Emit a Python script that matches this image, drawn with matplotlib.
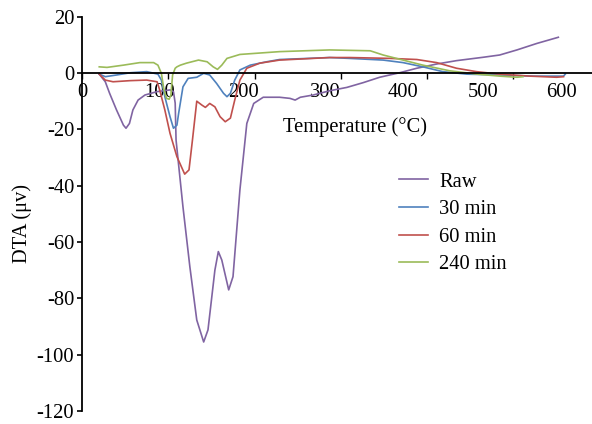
import matplotlib
matplotlib.use("Agg")
import matplotlib.pyplot as plt

# DTA curves (temperature in C, signal in uV)
raw_t = [20, 27, 32, 40, 48, 51, 55, 59, 65, 73, 87, 102, 106, 108, 109, 117, 125, 133, 141, 146, 154,
         158, 162, 170, 175, 183, 191, 199, 210, 229, 241, 247, 253, 268, 287, 307, 326, 345, 368, 388,
         411, 434, 465, 484, 504, 527, 552]
raw_y = [-0.4, -3.1, -7.2, -13.1, -18.5, -19.6, -17.9, -13.1, -9.6, -7.8, -6.6, -6, -6.6, -10.7,
         -23.8, -47.5, -68.8, -87.7, -95.5, -91.2, -70, -63.4, -66.4, -77, -72.3, -41.5, -17.9, -10.8,
         -8.6, -8.6, -9, -9.6, -8.6, -7.8, -6.3, -5.1, -3.4, -1.5, 0.1, 1.7, 3.2, 4.4, 5.6, 6.4, 8.2,
         10.5, 12.7]

m30_t = [20, 27, 40, 56, 75, 88, 92, 96, 102, 106, 110, 112, 117, 123, 133, 141, 148, 156, 164, 168,
         172, 177, 183, 195, 214, 229, 287, 310, 349, 372, 395, 418, 446, 484, 523, 558, 560]
m30_y = [-0.4, -1.3, -0.7, 0.1, 0.5, -0.4, -2.5, -8.4, -15.5, -19.6, -18.5, -14.3, -4.9, -1.9, -1.5,
         -0.1, -0.7, -3.7, -7.2, -8.4, -7.2, -2.5, 1.1, 2.8, 4.0, 4.8, 5.5, 5.2, 4.6, 3.7, 2.2, 0.5,
         -0.4, -0.7, -1.1, -1.1, -0.4]

m60_t = [20, 27, 36, 56, 75, 87, 90, 96, 102, 110, 119, 124, 128, 133, 139, 143, 148, 154, 160, 166,
         172, 177, 183, 191, 206, 229, 287, 310, 357, 388, 411, 434, 457, 484, 519, 550, 558]
m60_y = [-0.4, -2.5, -3.1, -2.7, -2.5, -3.1, -6, -13.1, -21.4, -29.7, -35.9, -34.4, -23.8, -10,
         -11.4, -12.2, -10.8, -12, -15.5, -17.3, -16, -9.6, -2.5, 1.7, 3.5, 4.6, 5.5, 5.5, 5.2, 4.8,
         3.7, 1.7, 0.5, -0.4, -1.1, -1.5, -1.3]

m240_t = [20, 29, 48, 67, 83, 88, 92, 95, 98, 101, 103, 105, 108, 110, 114, 121, 135, 145, 152, 157,
          162, 168, 183, 229, 287, 334, 349, 372, 395, 426, 458, 484, 504, 511]
m240_y = [2.2, 2.0, 2.8, 3.7, 3.7, 2.8, -0.1, -6, -9, -9.3, -7.8, -0.7, 1.7, 2.2, 2.8, 3.5, 4.6, 4,
          2.2, 1.3, 2.8, 5.2, 6.6, 7.6, 8.2, 7.9, 6.4, 4.6, 2.8, 0.8, -0.4, -1.1, -1.5, -1.3]

series_names = ["Raw", "30 min", "60 min", "240 min"]
series_colors = ["#8064A2", "#4F81BD", "#C0504D", "#9BBB59"]

tick_values = [0, 100, 200, 300, 400, 500]
tick_label_text = ["0", "100", "200", "300", "400", "500", "600"]
# the reference prints its labels a bit left of the tick marks
tick_label_pos = [1, 90, 187, 282, 372, 465, 556]
y_ticks = [20, 0, -20, -40, -60, -80, -100, -120]

plt.rcParams["font.family"] = ["Liberation Serif", "DejaVu Serif"]
plt.rcParams["font.size"] = 14.8

fig = plt.figure(figsize=(5.92, 4.24), dpi=100)
ax = fig.add_axes([0.1385, 0.0307, 0.8615, 0.9299])

data = [(raw_t, raw_y), (m30_t, m30_y), (m60_t, m60_y), (m240_t, m240_y)]
for (t, y), name, col in zip(data, series_names, series_colors):
    ax.plot(t, y, color=col, lw=1.2, label=name)

ax.set_xlim(0, 591)
ax.set_ylim(-120, 20)

ax.spines["top"].set_visible(False)
ax.spines["right"].set_visible(False)
ax.spines["bottom"].set_position(("data", 0))
ax.spines["left"].set_linewidth(1.3)
ax.spines["bottom"].set_linewidth(1.3)

ax.set_yticks(y_ticks)
ax.set_yticklabels([str(v) for v in y_ticks])
ax.tick_params(axis="y", direction="out", length=3.5, width=1.2, pad=2)

# tick marks as minor ticks, labels as major ticks without marks
ax.set_xticks(tick_values, minor=True)
ax.set_xticks(tick_label_pos)
ax.set_xticklabels(tick_label_text)
ax.tick_params(axis="x", which="minor", direction="out", length=4, width=1.0)
ax.tick_params(axis="x", which="major", length=0, pad=7)

ax.text(316, -19.3, "Temperature (°C)", ha="center", va="center")
fig.text(0.037, 0.474, "DTA (μv)", rotation=90, ha="center", va="center")

ax.legend(loc="upper left", bbox_to_anchor=(0.674, 0.594), bbox_transform=fig.transFigure,
          frameon=False, borderpad=0, borderaxespad=0, handlelength=1.4, handletextpad=0.55,
          labelspacing=0.4)

fig.savefig("out.png", dpi=100)
